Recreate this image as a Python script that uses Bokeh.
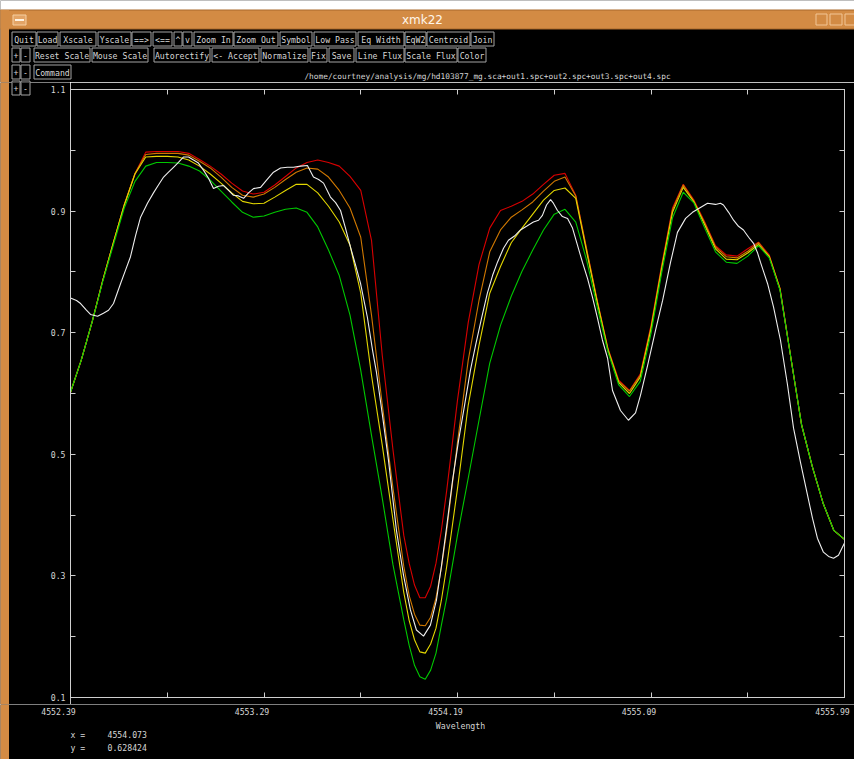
from bokeh.plotting import figure
from bokeh.layouts import column, row
from bokeh.models import (Range1d, LinearAxis, FixedTicker, ColumnDataSource)
from bokeh.core.properties import value
from bokeh.embed import file_html
from bokeh.resources import INLINE

# ---------------------------------------------------------------- data
# model spectra share one wavelength grid (Angstrom)
WAVE_MODEL = [
    4552.39, 4552.44, 4552.49, 4552.54, 4552.59, 4552.64, 4552.69, 4552.74, 4552.79, 4552.84,
    4552.89, 4552.94, 4552.99, 4553.04, 4553.09, 4553.14, 4553.19, 4553.24, 4553.29, 4553.34,
    4553.39, 4553.44, 4553.49, 4553.54, 4553.59, 4553.64, 4553.69, 4553.74, 4553.79, 4553.84,
    4553.89, 4553.94, 4553.965, 4553.99, 4554.015, 4554.04, 4554.065, 4554.09, 4554.115, 4554.14,
    4554.19, 4554.24, 4554.29, 4554.34, 4554.39, 4554.44, 4554.49, 4554.54, 4554.59, 4554.64,
    4554.69, 4554.74, 4554.79, 4554.84, 4554.89, 4554.94, 4554.99, 4555.04, 4555.09, 4555.14,
    4555.19, 4555.24, 4555.29, 4555.34, 4555.39, 4555.44, 4555.49, 4555.54, 4555.59, 4555.64,
    4555.69, 4555.74, 4555.79, 4555.84, 4555.89, 4555.94, 4555.99,
]

# out1.spc (red)
FLUX_OUT1 = [
    0.602, 0.655, 0.717, 0.786, 0.849, 0.910, 0.962, 0.997, 0.998, 0.998,
    0.998, 0.995, 0.985, 0.974, 0.961, 0.946, 0.933, 0.928, 0.931, 0.943,
    0.957, 0.971, 0.980, 0.984, 0.980, 0.974, 0.957, 0.934, 0.852, 0.663,
    0.507, 0.367, 0.321, 0.285, 0.264, 0.264, 0.283, 0.321, 0.375, 0.441,
    0.589, 0.717, 0.812, 0.872, 0.901, 0.908, 0.916, 0.928, 0.944, 0.959,
    0.962, 0.926, 0.839, 0.753, 0.674, 0.622, 0.605, 0.632, 0.712, 0.812,
    0.905, 0.944, 0.918, 0.882, 0.843, 0.828, 0.826, 0.838, 0.849, 0.828,
    0.773, 0.660, 0.549, 0.480, 0.420, 0.375, 0.360,
]

# out2.spc (orange)
FLUX_OUT2 = [
    0.602, 0.655, 0.717, 0.786, 0.849, 0.910, 0.962, 0.993, 0.995, 0.995,
    0.995, 0.992, 0.982, 0.971, 0.956, 0.939, 0.926, 0.923, 0.928, 0.939,
    0.952, 0.964, 0.971, 0.969, 0.956, 0.934, 0.905, 0.857, 0.729, 0.582,
    0.444, 0.316, 0.268, 0.237, 0.219, 0.218, 0.232, 0.264, 0.313, 0.375,
    0.520, 0.655, 0.753, 0.833, 0.869, 0.890, 0.902, 0.915, 0.933, 0.949,
    0.956, 0.925, 0.838, 0.752, 0.673, 0.620, 0.604, 0.630, 0.709, 0.809,
    0.902, 0.943, 0.916, 0.880, 0.841, 0.825, 0.823, 0.834, 0.848, 0.826,
    0.773, 0.660, 0.549, 0.480, 0.420, 0.375, 0.360,
]

# out3.spc (yellow)
FLUX_OUT3 = [
    0.602, 0.655, 0.717, 0.786, 0.849, 0.910, 0.961, 0.989, 0.990, 0.990,
    0.989, 0.984, 0.974, 0.961, 0.946, 0.930, 0.916, 0.912, 0.913, 0.923,
    0.934, 0.944, 0.944, 0.930, 0.908, 0.882, 0.844, 0.765, 0.630, 0.515,
    0.392, 0.273, 0.227, 0.195, 0.175, 0.173, 0.188, 0.214, 0.260, 0.316,
    0.444, 0.581, 0.679, 0.765, 0.809, 0.848, 0.872, 0.895, 0.918, 0.934,
    0.938, 0.921, 0.834, 0.750, 0.671, 0.618, 0.600, 0.627, 0.706, 0.806,
    0.898, 0.939, 0.915, 0.877, 0.838, 0.821, 0.820, 0.831, 0.845, 0.825,
    0.771, 0.660, 0.549, 0.480, 0.420, 0.375, 0.360,
]

# out4.spc (green)
FLUX_OUT4 = [
    0.602, 0.655, 0.717, 0.784, 0.845, 0.905, 0.949, 0.974, 0.980, 0.980,
    0.979, 0.974, 0.966, 0.951, 0.933, 0.915, 0.898, 0.890, 0.892, 0.898,
    0.903, 0.905, 0.898, 0.874, 0.836, 0.794, 0.729, 0.638, 0.531, 0.428,
    0.318, 0.228, 0.186, 0.153, 0.134, 0.130, 0.145, 0.173, 0.219, 0.264,
    0.367, 0.461, 0.556, 0.650, 0.712, 0.760, 0.801, 0.836, 0.869, 0.895,
    0.903, 0.882, 0.820, 0.742, 0.668, 0.614, 0.595, 0.620, 0.699, 0.799,
    0.889, 0.931, 0.913, 0.872, 0.833, 0.816, 0.814, 0.826, 0.843, 0.823,
    0.770, 0.660, 0.549, 0.480, 0.420, 0.375, 0.360,
]

# observed spectrum hd103877_mg.sca (white)
WAVE_OBS = [
    4552.390, 4552.418, 4552.437, 4552.464, 4552.483, 4552.516, 4552.543, 4552.567, 4552.590, 4552.623,
    4552.646, 4552.669, 4552.692, 4552.716, 4552.748, 4552.776, 4552.799, 4552.823, 4552.846, 4552.869,
    4552.892, 4552.916, 4552.939, 4552.962, 4552.985, 4553.009, 4553.032, 4553.055, 4553.078, 4553.102,
    4553.125, 4553.148, 4553.171, 4553.195, 4553.218, 4553.241, 4553.274, 4553.302, 4553.334, 4553.367,
    4553.399, 4553.427, 4553.460, 4553.492, 4553.520, 4553.544, 4553.567, 4553.599, 4553.623, 4553.646,
    4553.669, 4553.692, 4553.716, 4553.739, 4553.771, 4553.795, 4553.813, 4553.841, 4553.869, 4553.906,
    4553.939, 4553.971, 4553.999, 4554.032, 4554.064, 4554.092, 4554.116, 4554.139, 4554.167, 4554.195,
    4554.223, 4554.250, 4554.274, 4554.302, 4554.329, 4554.353, 4554.376, 4554.404, 4554.427, 4554.455,
    4554.483, 4554.511, 4554.543, 4554.567, 4554.585, 4554.604, 4554.623, 4554.636, 4554.655, 4554.678,
    4554.702, 4554.725, 4554.748, 4554.771, 4554.795, 4554.818, 4554.841, 4554.864, 4554.888, 4554.911,
    4554.948, 4554.985, 4555.018, 4555.041, 4555.074, 4555.111, 4555.144, 4555.181, 4555.213, 4555.251,
    4555.283, 4555.320, 4555.353, 4555.390, 4555.413, 4555.427, 4555.451, 4555.474, 4555.497, 4555.520,
    4555.544, 4555.567, 4555.585, 4555.599, 4555.632, 4555.660, 4555.692, 4555.725, 4555.753, 4555.785,
    4555.818, 4555.841, 4555.864, 4555.892, 4555.916, 4555.939, 4555.962, 4555.990,
]
FLUX_OBS = [
    0.757, 0.753, 0.748, 0.737, 0.730, 0.727, 0.732, 0.737, 0.748, 0.781,
    0.803, 0.825, 0.859, 0.890, 0.913, 0.930, 0.943, 0.956, 0.964, 0.972,
    0.980, 0.989, 0.989, 0.984, 0.979, 0.967, 0.954, 0.937, 0.941, 0.942,
    0.934, 0.926, 0.925, 0.921, 0.930, 0.937, 0.939, 0.951, 0.964, 0.971,
    0.972, 0.972, 0.974, 0.975, 0.956, 0.952, 0.946, 0.923, 0.914, 0.901,
    0.872, 0.841, 0.811, 0.781, 0.725, 0.671, 0.635, 0.564, 0.490, 0.375,
    0.301, 0.244, 0.211, 0.201, 0.219, 0.260, 0.318, 0.379, 0.457, 0.523,
    0.581, 0.638, 0.679, 0.724, 0.765, 0.794, 0.816, 0.839, 0.852, 0.859,
    0.869, 0.875, 0.882, 0.885, 0.893, 0.910, 0.919, 0.913, 0.901, 0.891,
    0.888, 0.872, 0.844, 0.816, 0.789, 0.758, 0.724, 0.688, 0.658, 0.605,
    0.572, 0.556, 0.568, 0.597, 0.646, 0.704, 0.753, 0.816, 0.865, 0.888,
    0.898, 0.906, 0.913, 0.911, 0.913, 0.910, 0.898, 0.885, 0.875, 0.869,
    0.857, 0.847, 0.832, 0.816, 0.781, 0.742, 0.688, 0.614, 0.543, 0.487,
    0.433, 0.395, 0.362, 0.339, 0.332, 0.329, 0.334, 0.354,
]

X_TICKS = [4552.39, 4553.29, 4554.19, 4555.09, 4555.99]
X_MINOR = [4552.84, 4553.74, 4554.64, 4555.54]
Y_TICKS = [0.1, 0.3, 0.5, 0.7, 0.9, 1.1]
Y_MINOR = [0.2, 0.4, 0.6, 0.8, 1.0]
X_TICK_LABELS = ["%.2f" % t for t in X_TICKS]
Y_TICK_LABELS = ["%.1f" % t for t in Y_TICKS]

WINDOW_TITLE = "xmk22"
FILE_TITLE = "/home/courtney/analysis/mg/hd103877_mg.sca+out1.spc+out2.spc+out3.spc+out4.spc"
X_LABEL = "Wavelength"
CURSOR_X = "4554.073"
CURSOR_Y = "0.628424"

# ---------------------------------------------------------------- layout
W, H = 854, 759
FL, FR, FT, FB = 70, 844, 89, 697   # plot frame edges on the page
HEAD_H = 82                         # header panel: title bar, buttons, file name
FOOT_Y = 704                        # footer panel: x tick labels, cursor read-out
STRIP_W = FL                        # panel left of the plot: window edge, +/- row, y labels

MONO = "DejaVu Sans Mono"
FG = "#d6d6d6"
AXC = "#cfcfcf"
ORANGE = "#d38b44"
BTN_LINE = "#a3a3a3"

# button rows: (top, bottom, [(caption, left, right), ...])
BUTTON_ROWS = [
    (31, 45, [("Quit", 11, 35), ("Load", 36, 57), ("Xscale", 59, 95), ("Yscale", 97, 130),
              ("==>", 131, 150), ("<==", 152, 171), ("^", 173, 181), ("v", 182, 191),
              ("Zoom In", 193, 232), ("Zoom Out", 233, 277), ("Symbol", 279, 311),
              ("Low Pass", 313, 355), ("Eq Width", 357, 403), ("EqW2", 404, 425),
              ("Centroid", 426, 469), ("Join", 470, 493)]),
    (47, 61, [("+", 11, 19), ("-", 20, 29), ("Reset Scale", 33, 89), ("Mouse Scale", 91, 147),
              ("Autorectify", 153, 209), ("<- Accept", 211, 258), ("Normalize", 260, 307),
              ("Fix", 309, 326), ("Save", 328, 353), ("Line Flux", 355, 403),
              ("Scale Flux", 404, 456), ("Color", 457, 485)]),
    (64, 78, [("+", 11, 19), ("-", 20, 29), ("Command", 33, 70)]),
]
LOWER_ROW = (80, 94, [("+", 11, 19), ("-", 20, 29)])


def no_frame_align(f):
    # each panel keeps its own borders instead of lining up with its neighbours
    if "frame_align" in f.properties():
        f.frame_align = False


def panel(width, y_top, y_bottom):
    """A bare drawing panel whose data units are page pixels (y grows downward)."""
    f = figure(width=width, height=y_bottom - y_top, output_backend="svg",
               toolbar_location=None, x_range=Range1d(0, width),
               y_range=Range1d(y_bottom, y_top), x_axis_location=None,
               y_axis_location=None, min_border=0)
    f.min_border_left = f.min_border_right = f.min_border_top = f.min_border_bottom = 0
    f.background_fill_color = "black"
    f.border_fill_color = "black"
    f.outline_line_color = None
    f.grid.visible = False
    no_frame_align(f)
    return f


def boxes(f, rects, fill, line=None):
    l, r, t, b = zip(*rects)
    f.quad(left=[v + 0.5 for v in l], right=[v + 0.5 for v in r],
           top=[v + 0.5 for v in t], bottom=[v + 0.5 for v in b],
           fill_color=fill, line_color=line, line_width=1)


def texts(f, xs, ys, labels, size="8.2px", color=FG, align="center", font=MONO, **kw):
    f.text(x=xs, y=ys, text=labels, text_align=align, text_baseline="middle",
           text_font=value(font), text_font_size=value(size), text_color=color, **kw)


def button_row(f, spec, captions=True):
    top_y, bot_y, buttons = spec
    boxes(f, [(x0, x1, top_y, bot_y) for _, x0, x1 in buttons], "black", BTN_LINE)
    if captions:
        texts(f, [(x0 + x1) / 2 + 0.5 for _, x0, x1 in buttons],
              [(top_y + bot_y) / 2 + 1] * len(buttons), [c for c, _, _ in buttons])


# ---- header: title bar, button rows, file name
head = panel(W, 0, HEAD_H)
boxes(head, [(-1, W + 1, -1, 9)], "white")
boxes(head, [(-1, W + 1, 9, 28)], ORANGE, "#a9692b")
boxes(head, [(-1, 8, 9, HEAD_H + 1)], ORANGE)
boxes(head, [(12, 25, 14, 24)], "#e3a466", "#f6cfa2")
boxes(head, [(14, 23, 18, 20)], "#fff4e4")
boxes(head, [(815, 826, 13, 24), (829, 841, 13, 24), (844, 856, 13, 24)], ORANGE, "#f2c595")
texts(head, [422], [19], [WINDOW_TITLE], size="12px", color="#fff6ea", font="DejaVu Sans")
for spec in BUTTON_ROWS:
    button_row(head, spec)
button_row(head, LOWER_ROW, captions=False)
texts(head, [487], [76], [FILE_TITLE], size="7.8px")

# ---- panel left of the plot: window edge, lowest +/- row, flux tick labels
strip = panel(STRIP_W, HEAD_H, FOOT_Y)
boxes(strip, [(-1, 8, HEAD_H - 1, FOOT_Y + 1)], ORANGE)
button_row(strip, LOWER_ROW)
px_per_flux = (FB - FT) / (Y_TICKS[-1] - Y_TICKS[0])
strip.extra_y_ranges = {"flux": Range1d(Y_TICKS[0] - (FOOT_Y - FB) / px_per_flux,
                                        Y_TICKS[-1] + (FT - HEAD_H) / px_per_flux)}
texts(strip, [FL - 5] * len(Y_TICKS), Y_TICKS, Y_TICK_LABELS, align="right",
      y_range_name="flux")

# ---- the spectrum plot
p = figure(width=W - STRIP_W, height=FOOT_Y - HEAD_H, output_backend="svg",
           toolbar_location=None,
           x_range=Range1d(X_TICKS[0], X_TICKS[-1]), y_range=Range1d(Y_TICKS[0], Y_TICKS[-1]),
           x_axis_location=None, y_axis_location=None,
           min_border_left=0, min_border_right=W - FR,
           min_border_top=FT - HEAD_H, min_border_bottom=FOOT_Y - FB)
p.background_fill_color = "black"
p.border_fill_color = "black"
p.outline_line_color = AXC
p.grid.visible = False
no_frame_align(p)


def style_axis(ax):
    # ticks only; the tick labels sit in the neighbouring panels
    ax.axis_line_color = AXC
    ax.major_tick_line_color = AXC
    ax.minor_tick_line_color = AXC
    ax.major_tick_in = 5
    ax.major_tick_out = 0
    ax.minor_tick_in = 5
    ax.minor_tick_out = 0
    ax.major_label_text_font_size = "0px"
    ax.major_label_standoff = 0


x_ticker = FixedTicker(ticks=X_TICKS, minor_ticks=X_MINOR)
y_ticker = FixedTicker(ticks=Y_TICKS, minor_ticks=Y_MINOR)
for loc, tk, ticks in (("left", y_ticker, Y_TICKS), ("below", x_ticker, X_TICKS),
                       ("above", x_ticker, X_TICKS), ("right", y_ticker, Y_TICKS)):
    ax = LinearAxis(ticker=tk, major_label_overrides={t: "" for t in ticks})
    style_axis(ax)
    p.add_layout(ax, loc)

src = ColumnDataSource(dict(w=WAVE_MODEL, o1=FLUX_OUT1, o2=FLUX_OUT2, o3=FLUX_OUT3, o4=FLUX_OUT4))
p.line("w", "o1", source=src, line_color="#d80000", line_width=1.1)
p.line("w", "o2", source=src, line_color="#d07800", line_width=1.1)
p.line("w", "o3", source=src, line_color="#e2d600", line_width=1.1)
p.line("w", "o4", source=src, line_color="#00c800", line_width=1.1)
p.line(WAVE_OBS, FLUX_OBS, line_color="#eeeeee", line_width=1.1)

# ---- footer: wavelength tick labels, axis name, cursor read-out
foot = panel(W, FOOT_Y, H)
boxes(foot, [(-1, 8, FOOT_Y - 1, H + 1)], ORANGE)
px_per_unit = (FR - FL) / (X_TICKS[-1] - X_TICKS[0])
foot.extra_x_ranges = {"wave": Range1d(X_TICKS[0] - FL / px_per_unit,
                                       X_TICKS[-1] + (W - FR) / px_per_unit)}
texts(foot, X_TICKS, [711] * len(X_TICKS), X_TICK_LABELS, x_range_name="wave", x_offset=-12)
texts(foot, [460], [725], [X_LABEL])
texts(foot, [70, 107, 70, 107], [734, 734, 747, 747],
      ["x =", CURSOR_X, "y =", CURSOR_Y], align="left")

layout = column(head, row(strip, p, spacing=0), foot, spacing=0)
open("out.html", "w").write(file_html(layout, INLINE))
